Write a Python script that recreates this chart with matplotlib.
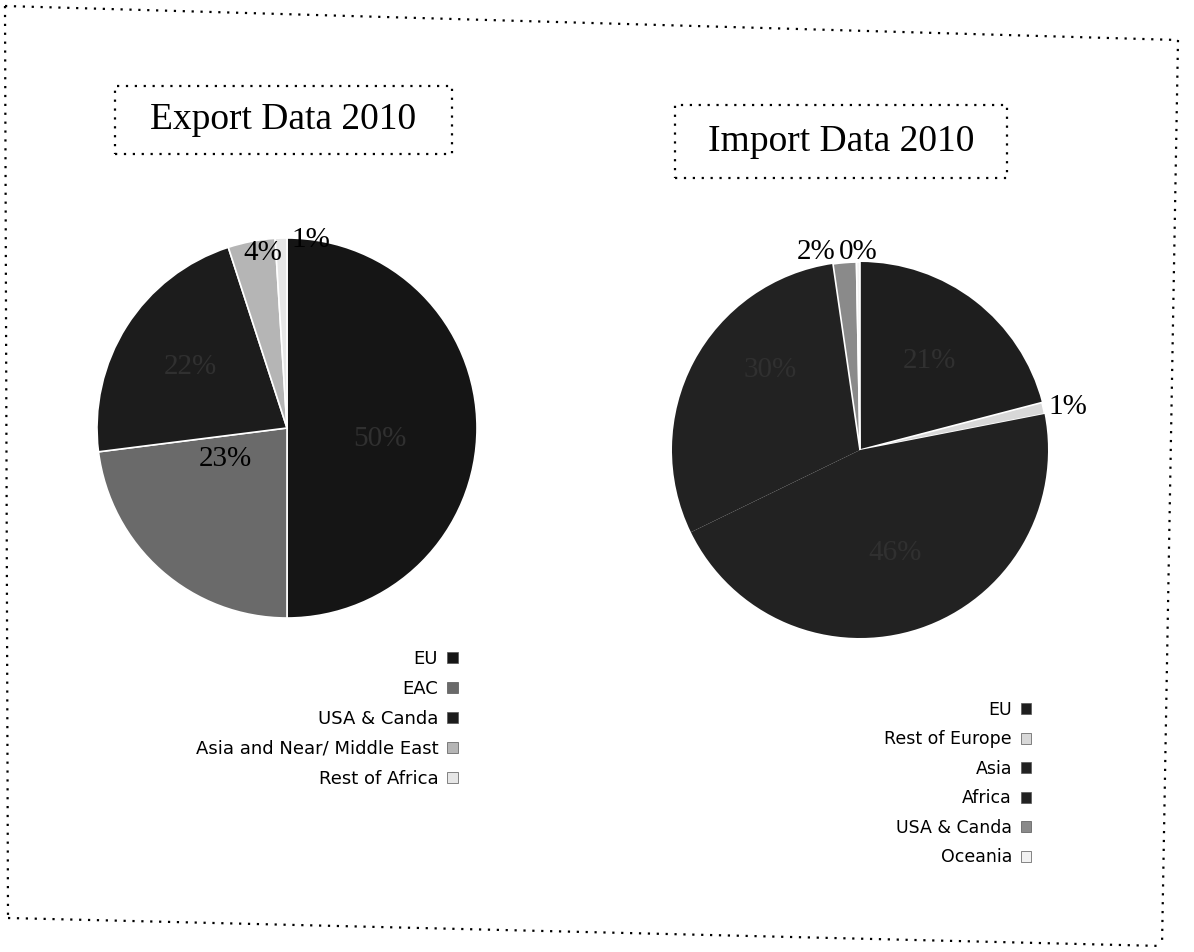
import numpy as np
import matplotlib.pyplot as plt
from matplotlib.patches import Rectangle, Patch
from matplotlib.lines import Line2D

# Export data 2010 (share in %)
export_labels = ['EU', 'EAC', 'USA & Canda', 'Asia and Near/ Middle East', 'Rest of Africa']
export_values = [50, 23, 22, 4, 1]
export_colors = ['#151515', '#6a6a6a', '#1c1c1c', '#b5b5b5', '#e6e6e6']

# Import data 2010 (share in %)
import_labels = ['EU', 'Rest of Europe', 'Asia', 'Africa', 'USA & Canda', 'Oceania']
import_values = [21, 1, 46, 30, 2, 0.3]
import_colors = ['#1e1e1e', '#d8d8d8', '#222222', '#222222', '#8a8a8a', '#f2f2f2']
import_pct_text = ['21%', '1%', '46%', '30%', '2%', '0%']

W, H = 1194, 952
fig = plt.figure(figsize=(W / 100, H / 100), dpi=100)
serif = ['Liberation Serif', 'DejaVu Serif']


def fx(x):
    return x / W


def fy(y):
    return 1 - y / H


def dotted(x0, y0, x1, y1, lw=1.6):
    fig.add_artist(Line2D([fx(x0), fx(x1)], [fy(y0), fy(y1)], color='black',
                          lw=lw, ls=(0, (1, 3)), transform=fig.transFigure))


# outer dotted frame (scan is a bit skewed)
dotted(5, 6, 1178, 40)
dotted(5, 6, 8, 918)
dotted(8, 918, 1162, 946)
dotted(1178, 40, 1162, 946)


def title_box(x0, y0, x1, y1, text):
    fig.add_artist(Rectangle((fx(x0), fy(y1)), fx(x1 - x0), (y1 - y0) / H,
                             fill=False, ec='black', lw=1.6, ls=(0, (1, 3)),
                             transform=fig.transFigure))
    fig.text(fx((x0 + x1) / 2), fy((y0 + y1) / 2), text, ha='center', va='center',
             fontsize=27, family=serif)


title_box(115, 86, 452, 154, 'Export Data 2010')
title_box(675, 105, 1007, 178, 'Import Data 2010')


def draw_pie(cx, cy, r, values, colors, edges, texts, dists, shifts, aligns, fontsize):
    ax = fig.add_axes([fx(cx - r), fy(cy + r), 2 * r / W, 2 * r / H])
    wedges, _ = ax.pie(values, colors=colors, startangle=90, counterclock=False,
                       wedgeprops=dict(linewidth=1.2))
    for w, e in zip(wedges, edges):
        w.set_edgecolor(e)
    for w, t, d, s, ha in zip(wedges, texts, dists, shifts, aligns):
        ang = np.deg2rad((w.theta1 + w.theta2) / 2 + s)
        col = 'black' if d > 0.97 or w.get_facecolor()[0] > 0.3 else '#303030'
        ax.text(d * np.cos(ang), d * np.sin(ang), t, ha=ha, va='center',
                fontsize=fontsize, family=serif, color=col, clip_on=False)
    ax.set_xlim(-1, 1)
    ax.set_ylim(-1, 1)
    ax.set_aspect('auto')
    ax.axis('off')


export_text = ['%d%%' % v for v in export_values]
draw_pie(287, 428, 190, export_values, export_colors, ['white'] * 5, export_text,
         [0.49, 0.36, 0.6, 0.93, 0.99], [-7, -22, 0, -3, -3],
         ['center', 'center', 'center', 'center', 'left'], 21)

draw_pie(860, 450, 188, import_values, import_colors,
         ['none', 'white', 'none', 'none', 'white', 'white'], import_pct_text,
         [0.6, 1.03, 0.58, 0.64, 1.06, 1.06], [0, 0, 0, -13.5, 2.5, 5.5],
         ['center', 'left', 'center', 'center', 'right', 'left'], 21)


def legend(labels, colors, right, top, size):
    handles = [Patch(facecolor=c, edgecolor='#555555', lw=0.5) for c in colors]
    fig.legend(handles, labels, loc='upper right', bbox_to_anchor=(fx(right), fy(top)),
               markerfirst=False, frameon=False, prop={'family': 'DejaVu Sans', 'size': size},
               handlelength=0.6, handleheight=0.6, handletextpad=0.5,
               labelspacing=0.66, borderpad=0, borderaxespad=0)


legend(export_labels, export_colors, 458, 650, 13)
legend(import_labels, import_colors, 1031, 701, 12.5)

plt.savefig('out.png', dpi=100)
